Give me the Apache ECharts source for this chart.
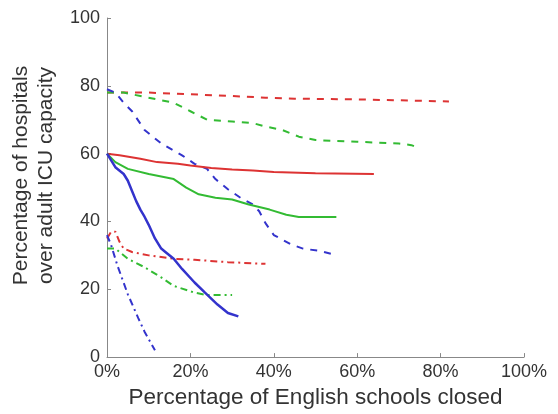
<!DOCTYPE html>
<html>
<head>
<meta charset="utf-8">
<script src="https://cdn.jsdelivr.net/npm/echarts@6/dist/echarts.min.js"></script>
<style>html,body{margin:0;padding:0;background:#fff}#c{width:558px;height:414px}</style>
</head>
<body>
<div id="c"></div>
<script>
const xTicks = [0, 20, 40, 60, 80, 100];
const yTicks = [0, 20, 40, 60, 80, 100];

const redSolid = [[0,60],[3,59.5],[8,58.5],[12,57.5],[17,57],[20,56.5],[25,55.8],[30,55.3],[35,55],[40,54.6],[50,54.2],[64,54]];
const greenSolid = [[0,60],[2,57.5],[5,55.5],[10,54],[16,52.5],[19,50],[22,48],[26,47],[30,46.5],[34,45],[39,43.5],[43,42],[46,41.3],[55,41.3]];
const blueSolid = [[0,60],[1,58],[2,56],[4,54],[5,52],[6,49],[7,46],[8,43.5],[9,41.4],[10,39],[11.5,35],[13,32],[14,31],[16,29],[18,26],[21,22],[23.5,19],[26.5,15.5],[29,13],[31.5,12]];

const redDashed = [[0,78],[2,78],[10,78],[20,77.5],[30,77],[38,76.5],[45,76.2],[60,76],[82,75.4]];
const greenDashed = [[0,78],[4,78],[8,77],[12,76],[16,75],[20,72.5],[24,70],[30,69.5],[35,69],[38,68],[42,67],[46,65],[50,64],[60,63.5],[70,63],[73,62.5],[75,61.5]];
const blueDashed = [[0,79],[2,78],[4,75],[6,72.5],[9,67],[13,63],[18,59.5],[21,57],[24,55.5],[26,52.5],[29,49.5],[32,47],[35,45],[36.5,43],[38,39.5],[40,36],[44,33.3],[47,32],[51,31.3],[54,30.4]];

const redDashDot = [[0,35],[1,37],[2,37],[3,34],[4,32],[6,31],[10,30],[16,29],[21,28.7],[29,28],[38,27.5]];
const greenDashDot = [[0,32],[2,32],[5,29],[9,26.5],[13,23.5],[16,21],[21,19],[24,18.3],[30,18.3]];
const blueDashDot = [[0,36],[1,33],[2.5,27],[5,18.5],[7.5,11.5],[9,7.5],[11.5,2]];

const RED = '#dd3333', GREEN = '#33bb33', BLUE = '#3333cc';
const DASH = [7, 7];
const DASHDOT = [7, 4, 2, 4];

function line(data, color, type, width) {
  return {
    type: 'line', data: data, showSymbol: false, symbol: 'none', animation: false,
    lineStyle: { color: color, width: width, type: type },
    emphasis: { disabled: true }
  };
}

const chart = echarts.init(document.getElementById('c'), null, { renderer: 'canvas' });
const FONT = '"Liberation Sans", Arial, Helvetica, sans-serif';
chart.setOption({
  animation: false,
  grid: { left: 107, right: 34, top: 18, bottom: 51, containLabel: false },
  xAxis: {
    type: 'value', min: xTicks[0], max: xTicks[xTicks.length - 1], interval: 20,
    name: 'Percentage of English schools closed', nameLocation: 'middle', nameGap: 27,
    nameTextStyle: { fontFamily: FONT, fontSize: 22.5, color: '#333' },
    axisLine: { show: true, lineStyle: { color: '#888', width: 1 } },
    axisTick: { show: true, inside: true, length: 4, lineStyle: { color: '#888' } },
    axisLabel: { formatter: '{value}%', fontFamily: FONT, fontSize: 18, color: '#333', margin: 6 },
    splitLine: { show: false }
  },
  yAxis: {
    type: 'value', min: yTicks[0], max: yTicks[yTicks.length - 1], interval: 20,
    name: 'Percentage of hospitals\nover adult ICU capacity', nameLocation: 'middle', nameGap: 41,
    nameRotate: 90,
    nameTextStyle: { fontFamily: FONT, fontSize: 21, color: '#333', lineHeight: 25, padding: [0, 0, 0, 24] },
    axisLine: { show: true, lineStyle: { color: '#888', width: 1 } },
    axisTick: { show: true, inside: true, length: 4, lineStyle: { color: '#888' } },
    axisLabel: { fontFamily: FONT, fontSize: 18, color: '#333', margin: 7 },
    splitLine: { show: false }
  },
  series: [
    line(redDashed, RED, DASH, 2),
    line(greenDashed, GREEN, DASH, 2),
    line(blueDashed, BLUE, DASH, 2),
    line(redDashDot, RED, DASHDOT, 2),
    line(greenDashDot, GREEN, DASHDOT, 2),
    line(blueDashDot, BLUE, DASHDOT, 2),
    line(redSolid, RED, 'solid', 2),
    line(greenSolid, GREEN, 'solid', 2),
    line(blueSolid, BLUE, 'solid', 2.5)
  ]
});
</script>
</body>
</html>
